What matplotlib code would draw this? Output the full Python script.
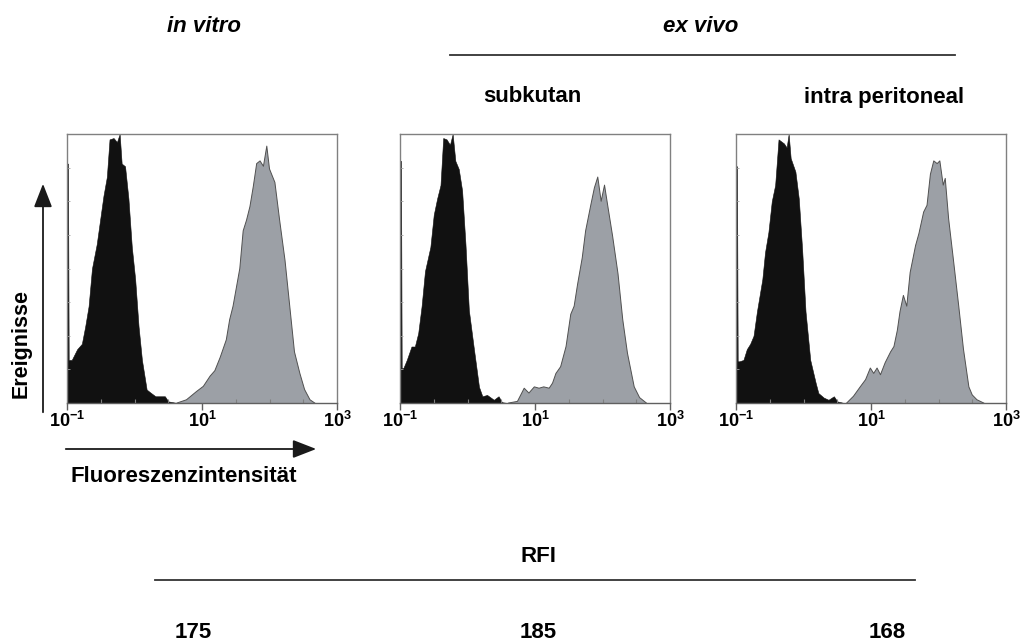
import matplotlib
matplotlib.use("Agg")
import matplotlib.pyplot as plt
import matplotlib.patches as mpatches
from matplotlib.lines import Line2D
import numpy as np

plt.rcParams['font.family'] = ['Liberation Sans', 'DejaVu Sans']
plt.rcParams['mathtext.fontset'] = 'custom'
plt.rcParams['mathtext.rm'] = 'Liberation Sans:bold'
plt.rcParams['mathtext.it'] = 'Liberation Sans:bold'
plt.rcParams['mathtext.bf'] = 'Liberation Sans:bold'

W, H = 1021, 644
TEXT_SIZE = 16

# histogram data: x = log10 fluorescence, y = relative events
invitro_neg_x = [-1.00, -0.985, -0.975, -0.93, -0.85, -0.78, -0.73, -0.68, -0.63, -0.56, -0.51,
                 -0.46, -0.41, -0.37, -0.31, -0.26, -0.22, -0.19, -0.14, -0.09, -0.04, 0.01,
                 0.06, 0.11, 0.18, 0.23, 0.31, 0.38, 0.45, 0.50, 0.63]
invitro_neg_y = [0.89, 0.89, 0.16, 0.16, 0.20, 0.22, 0.285, 0.36, 0.50, 0.59, 0.68,
                 0.77, 0.84, 0.98, 0.985, 0.97, 1.00, 0.89, 0.88, 0.76, 0.58, 0.46,
                 0.285, 0.16, 0.05, 0.04, 0.025, 0.025, 0.025, 0.006, 0.0]
invitro_pos_x = [0.63, 0.77, 0.92, 1.02, 1.12, 1.19, 1.27, 1.36, 1.41, 1.46, 1.51, 1.56, 1.61,
                 1.66, 1.71, 1.76, 1.81, 1.86, 1.91, 1.96, 2.00, 2.08, 2.15, 2.23, 2.30, 2.37,
                 2.45, 2.52, 2.60, 2.67]
invitro_pos_y = [0.0, 0.012, 0.043, 0.062, 0.10, 0.12, 0.17, 0.235, 0.31, 0.36, 0.43, 0.50, 0.64,
                 0.68, 0.73, 0.805, 0.89, 0.90, 0.88, 0.955, 0.87, 0.82, 0.68, 0.53, 0.36, 0.19,
                 0.11, 0.05, 0.012, 0.0]

subkutan_neg_x = [-1.00, -0.985, -0.975, -0.95, -0.90, -0.83, -0.78, -0.73, -0.68, -0.63, -0.55,
                  -0.50, -0.45, -0.40, -0.36, -0.31, -0.26, -0.22, -0.18, -0.13, -0.08, -0.03,
                  0.02, 0.09, 0.17, 0.22, 0.29, 0.39, 0.46, 0.51, 0.59]
subkutan_neg_y = [0.90, 0.90, 0.13, 0.13, 0.16, 0.21, 0.21, 0.26, 0.36, 0.49, 0.58,
                  0.70, 0.76, 0.81, 0.985, 0.98, 0.96, 1.00, 0.90, 0.87, 0.79, 0.59,
                  0.345, 0.21, 0.06, 0.025, 0.03, 0.012, 0.025, 0.003, 0.0]
subkutan_pos_x = [0.61, 0.74, 0.84, 0.91, 0.99, 1.06, 1.13, 1.21, 1.26, 1.31, 1.38, 1.46, 1.53,
                  1.58, 1.63, 1.70, 1.75, 1.83, 1.88, 1.93, 1.98, 2.03, 2.08, 2.15, 2.23, 2.30,
                  2.37, 2.47, 2.55, 2.65]
subkutan_pos_y = [0.0, 0.006, 0.055, 0.037, 0.06, 0.055, 0.06, 0.055, 0.074, 0.11, 0.135, 0.21, 0.33,
                  0.36, 0.44, 0.54, 0.64, 0.74, 0.80, 0.84, 0.75, 0.81, 0.73, 0.62, 0.48, 0.31,
                  0.185, 0.06, 0.02, 0.0]

ip_neg_x = [-1.00, -0.985, -0.975, -0.95, -0.89, -0.84, -0.79, -0.74, -0.69, -0.61, -0.57,
            -0.52, -0.47, -0.42, -0.37, -0.29, -0.25, -0.22, -0.19, -0.12, -0.07, -0.02,
            0.03, 0.10, 0.18, 0.22, 0.30, 0.37, 0.45, 0.50, 0.60]
ip_neg_y = [0.88, 0.88, 0.155, 0.155, 0.16, 0.20, 0.22, 0.25, 0.34, 0.46, 0.56,
            0.635, 0.75, 0.81, 0.98, 0.965, 0.95, 1.00, 0.91, 0.86, 0.76, 0.57,
            0.34, 0.16, 0.075, 0.037, 0.02, 0.012, 0.025, 0.006, 0.0]
ip_pos_x = [0.64, 0.74, 0.84, 0.92, 0.99, 1.04, 1.09, 1.14, 1.21, 1.29, 1.34, 1.39, 1.43, 1.48,
            1.53, 1.58, 1.66, 1.71, 1.78, 1.83, 1.88, 1.93, 1.98, 2.02, 2.07, 2.10, 2.15, 2.22,
            2.30, 2.37, 2.45, 2.50, 2.57, 2.67]
ip_pos_y = [0.0, 0.025, 0.06, 0.087, 0.13, 0.11, 0.13, 0.105, 0.15, 0.19, 0.21, 0.27, 0.34, 0.40,
            0.36, 0.485, 0.585, 0.63, 0.71, 0.735, 0.85, 0.90, 0.89, 0.90, 0.81, 0.835, 0.685, 0.535,
            0.36, 0.20, 0.06, 0.03, 0.012, 0.0]

panel_titles = ["subkutan", "intra peritoneal"]
rfi_values = ["175", "185", "168"]

panels = [
    (invitro_neg_x, invitro_neg_y, invitro_pos_x, invitro_pos_y),
    (subkutan_neg_x, subkutan_neg_y, subkutan_pos_x, subkutan_pos_y),
    (ip_neg_x, ip_neg_y, ip_pos_x, ip_pos_y),
]
panel_left_px = [67, 400, 736]
rfi_x_px = [193, 538, 887]


def fx(x):
    return x / W


def fy(y):
    return 1 - y / H


fig = plt.figure(figsize=(W / 100, H / 100), dpi=100)
fig.patch.set_facecolor("white")

for (nx, ny, px, py), left in zip(panels, panel_left_px):
    ax = fig.add_axes([fx(left), fy(403), 270 / W, 269 / H])
    ax.set_xscale("log")
    ax.set_xlim(1e-1, 1e3)
    ax.set_ylim(0, 1.0)

    pos_x = 10 ** np.array(px)
    ax.fill_between(pos_x, py, 0, facecolor="#9ca0a6", edgecolor="none", lw=0)
    ax.plot(pos_x, py, color="#505050", lw=0.7)
    ax.fill_between(10 ** np.array(nx), ny, 0, facecolor="#111111", edgecolor="#111111", lw=0.4)

    for s in ax.spines.values():
        s.set_color("#808080")
        s.set_linewidth(1.0)
    ax.spines["bottom"].set_color("#606060")

    ax.set_xticks([1e-1, 1e1, 1e3])
    ax.set_xticklabels([r"$10^{-1}$", r"$10^{1}$", r"$10^{3}$"], fontsize=13)
    ax.set_xticks(10 ** np.arange(-1, 3.01, 0.5), minor=True)
    ax.xaxis.set_minor_formatter(plt.NullFormatter())
    ax.tick_params(axis="x", which="major", direction="out", length=5, width=1, color="#606060", pad=1)
    ax.tick_params(axis="x", which="minor", direction="in", length=3, width=0.8, color="#808080")
    ax.set_yticks(np.arange(0, 1.01, 0.125))
    ax.set_yticklabels([])
    ax.tick_params(axis="y", direction="in", length=2, width=0.6, color="#a0a0a0")
    ax.tick_params(top=False, right=False)

# header texts
fig.text(fx(204), fy(26), "in vitro", ha="center", va="center", fontsize=TEXT_SIZE,
         fontweight="bold", style="italic")
fig.text(fx(701), fy(26), "ex vivo", ha="center", va="center", fontsize=TEXT_SIZE,
         fontweight="bold", style="italic")
fig.add_artist(Line2D([fx(450), fx(955)], [fy(55), fy(55)], color="#333333", lw=1.3))
fig.text(fx(532), fy(97), panel_titles[0], ha="center", va="center", fontsize=TEXT_SIZE,
         fontweight="bold")
fig.text(fx(884), fy(97), panel_titles[1], ha="center", va="center", fontsize=TEXT_SIZE,
         fontweight="bold")

# axis arrows
fig.add_artist(mpatches.FancyArrowPatch((fx(43), fy(415)), (fx(43), fy(181)), transform=fig.transFigure,
                                        arrowstyle="-|>,head_length=0.9,head_width=0.35",
                                        mutation_scale=16, color="#1a1a1a", lw=1.3))
fig.add_artist(mpatches.FancyArrowPatch((fx(63), fy(449)), (fx(319), fy(449)), transform=fig.transFigure,
                                        arrowstyle="-|>,head_length=0.9,head_width=0.35",
                                        mutation_scale=16, color="#1a1a1a", lw=1.3))
fig.text(fx(21), fy(343), "Ereignisse", rotation=90, ha="center", va="center",
         fontsize=15.5, fontweight="bold")
fig.text(fx(184), fy(476), "Fluoreszenzintensität", ha="center", va="center",
         fontsize=16, fontweight="bold")

# RFI block
fig.text(fx(538), fy(556), "RFI", ha="center", va="center", fontsize=TEXT_SIZE,
         fontweight="bold")
fig.add_artist(Line2D([fx(155), fx(915)], [fy(580), fy(580)], color="#333333", lw=1.3))
for val, x in zip(rfi_values, rfi_x_px):
    fig.text(fx(x), fy(632), val, ha="center", va="center", fontsize=TEXT_SIZE,
             fontweight="bold")

fig.savefig("out.png", dpi=100)
